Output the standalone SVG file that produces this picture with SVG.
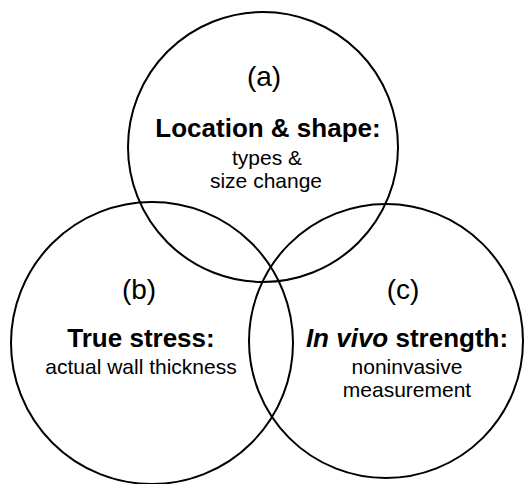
<svg xmlns="http://www.w3.org/2000/svg" width="524" height="484" viewBox="0 0 524 484">
<style>
.c{fill:none;stroke:#000;stroke-width:2}
text{font-family:"Liberation Sans",Arial,sans-serif;text-anchor:middle;fill:#000}
.lab{font-size:28px}
.h{font-size:26px;font-weight:bold}
.t{font-size:21px}
</style>
<rect width="524" height="484" fill="#fff"/>
<g id="a">
<circle class="c" cx="263" cy="147" r="135"/>
<text class="lab" x="264" y="86">(a)</text>
<text class="h" x="268" y="137">Location &amp; shape:</text>
<text class="t" x="267" y="165">types &amp;</text>
<text class="t" x="266" y="188">size change</text>
</g>
<g id="b">
<circle class="c" cx="152" cy="343" r="141"/>
<text class="lab" x="139" y="299">(b)</text>
<text class="h" x="141" y="347">True stress:</text>
<text class="t" x="141" y="374">actual wall thickness</text>
</g>
<g id="c">
<circle class="c" cx="386" cy="341" r="137"/>
<text class="lab" x="403" y="299">(c)</text>
<text class="h" x="407" y="347"><tspan font-style="italic">In vivo</tspan> strength:</text>
<text class="t" x="407" y="374">noninvasive</text>
<text class="t" x="407" y="397">measurement</text>
</g>
<g id="connectors"/>
</svg>
